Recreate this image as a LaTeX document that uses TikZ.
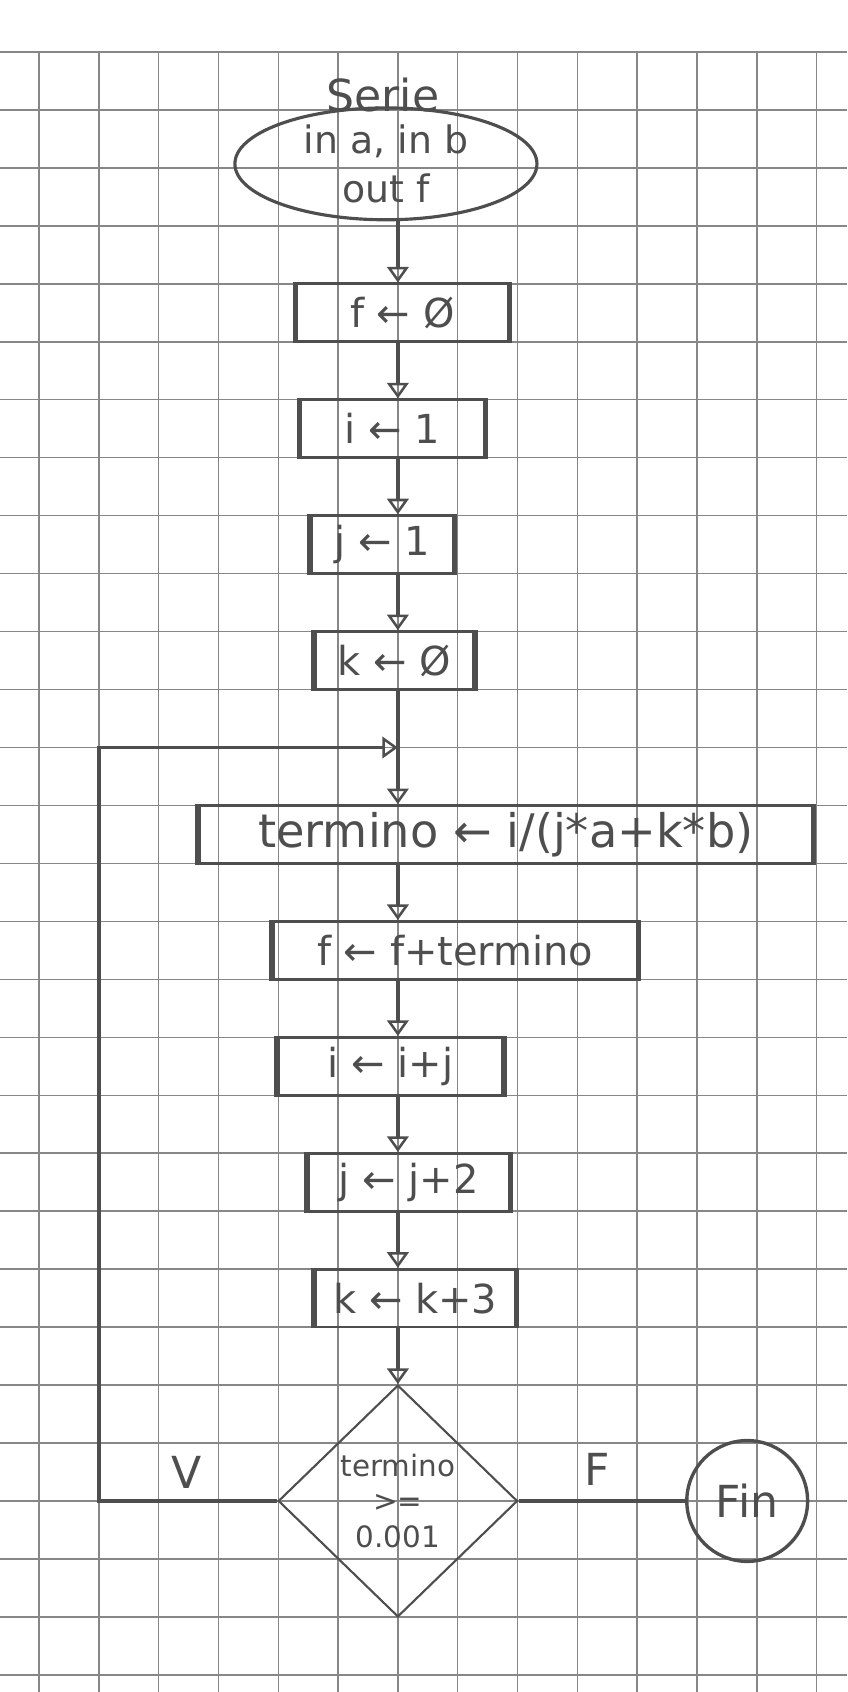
\documentclass[tikz,border=0pt]{standalone}
\usepackage{fontspec}
\setmainfont{DejaVu Sans}
\usetikzlibrary{shapes.geometric, arrows.meta, positioning}

\definecolor{pencil}{RGB}{78,78,78}
\definecolor{gridgray}{RGB}{135,135,135}

\begin{document}
\begin{tikzpicture}[
    x=1cm, y=0.969cm,
    gridline/.style={draw=gridgray, line width=0.7pt},
    terminal/.style={ellipse, draw=pencil, line width=1.5pt, text=pencil, align=center, inner sep=0pt, font=\fontsize{18}{23}\selectfont},
    sidebar/.style={draw=pencil, line width=2.6pt},
    procbox/.style={rectangle, draw=pencil, line width=1.3pt, text=pencil, minimum height=0.969cm, inner sep=0pt, font=\fontsize{19}{23}\selectfont,
        append after command={(\tikzlastnode.north west) edge[sidebar] (\tikzlastnode.south west)
                              (\tikzlastnode.north east) edge[sidebar] (\tikzlastnode.south east)}},
    decision/.style={diamond, draw=pencil, line width=1pt, text=pencil, align=center, inner sep=0pt, minimum width=4cm, minimum height=3.876cm, font=\fontsize{14}{17}\selectfont},
    endnode/.style={circle, draw=pencil, line width=1.6pt, text=pencil, minimum size=2.02cm, inner sep=0pt, font=\fontsize{21}{25}\selectfont},
    tag/.style={text=pencil, font=\fontsize{21}{25}\selectfont},
    arrow/.style={draw=pencil, line width=1.8pt, -{Triangle[open, length=2.6mm, width=3.6mm, line width=1.2pt]}},
    line/.style={draw=pencil, line width=1.8pt}
]
\useasboundingbox (-0.652,0.897) rectangle (13.512,-28.296);

% Squared paper
\draw[gridline, xstep=1cm, ystep=0.969cm] (-0.652,-28.296) grid (13.512,0);

% Start
\node[tag] (title) at (5.75,-0.75) {Serie};
\node[terminal, minimum width=5.05cm, minimum height=1.87cm] (start) at (5.8,-1.93) {in a, in b\\out f};
\coordinate (axis) at (6,0);

% Initial values
\node[procbox, minimum width=3.53cm] (f0) at (6.075,-4.5) {f ← Ø};
\node[procbox, minimum width=3.06cm] (i0) at (5.91,-6.5) {i ← 1};
\node[procbox, minimum width=2.37cm] (j0) at (5.735,-8.5) {j ← 1};
\node[procbox, minimum width=2.65cm] (k0) at (5.945,-10.5) {k ← Ø};

\draw[arrow] (start.south -| axis) -- (f0.north -| axis);
\draw[arrow] (f0.south -| axis) -- (i0.north -| axis);
\draw[arrow] (i0.south -| axis) -- (j0.north -| axis);
\draw[arrow] (j0.south -| axis) -- (k0.north -| axis);

% Loop body
\node[procbox, minimum width=10.25cm, font=\fontsize{22}{26}\selectfont] (term) at (7.805,-13.5) {termino ← i/(j*a+k*b)};
\node[procbox, minimum width=6.08cm] (fsum) at (6.96,-15.5) {f ← f+termino};
\node[procbox, minimum width=3.75cm] (inext) at (5.875,-17.5) {i ← i+j};
\node[procbox, minimum width=3.36cm] (jnext) at (6.18,-19.5) {j ← j+2};
\node[procbox, minimum width=3.34cm] (knext) at (6.29,-21.5) {k ← k+3};

\draw[arrow] (k0.south -| axis) -- (term.north -| axis);
\draw[arrow] (term.south -| axis) -- (fsum.north -| axis);
\draw[arrow] (fsum.south -| axis) -- (inext.north -| axis);
\draw[arrow] (inext.south -| axis) -- (jnext.north -| axis);
\draw[arrow] (jnext.south -| axis) -- (knext.north -| axis);

% Condition
\node[decision] (cond) at (6,-25) {termino\\>=\\0.001};
\draw[arrow] (knext.south -| axis) -- (cond.north);

% Back to the loop (V)
\coordinate (loopin) at (6,-12);
\coordinate (loopcorner) at (1,-25);
\draw[arrow] (cond.west) -- (loopcorner) |- (loopin);
\node[tag] (vlab) at (2.47,-24.5) {V};

% End (F)
\node[endnode] (fin) at (11.84,-25) {Fin};
\draw[line] (cond.east) -- (fin.west);
\node[tag] (flab) at (9.33,-24.45) {F};

\end{tikzpicture}
\end{document}
